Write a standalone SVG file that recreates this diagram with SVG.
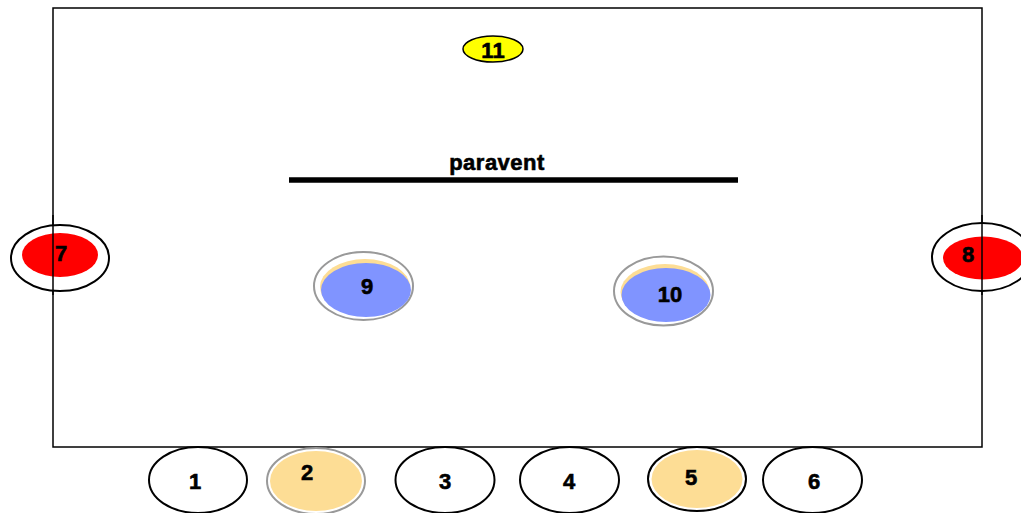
<svg xmlns="http://www.w3.org/2000/svg" width="1021" height="513" viewBox="0 0 1021 513">
<style>
text{font-family:"Liberation Sans",Arial,sans-serif;font-weight:bold;fill:#000;text-anchor:middle;dominant-baseline:central;stroke:#000;stroke-width:0.6}
.n{font-size:22px}
.ring{fill:#fff;stroke:#000;stroke-width:2}
.gring{fill:#fff;stroke:#999;stroke-width:2}
.red{fill:#ff0000}
.org{fill:#fddd95}
.blue{fill:#8094ff}
</style>
<rect x="53" y="8" width="929" height="439" fill="#fff" stroke="#000" stroke-width="1.5"/>
<g id="connectors"></g>
<g id="paravent">
<line x1="289" y1="180" x2="738" y2="180" stroke="#000" stroke-width="5.5"/>
<text x="497" y="162" style="font-size:22px;letter-spacing:0.5px">paravent</text>
</g>
<g id="node11">
<ellipse cx="493" cy="49" rx="30" ry="13" fill="#ffff00" stroke="#000" stroke-width="1.5"/>
<text x="493" y="50" class="n">11</text>
</g>
<g id="node7">
<ellipse cx="60" cy="258" rx="49" ry="33" class="ring"/>
<ellipse cx="60" cy="255" rx="38" ry="22" class="red"/>
<line x1="53" y1="215" x2="53" y2="295" stroke="#000" stroke-width="1.5"/>
<text x="61" y="253" class="n">7</text>
</g>
<g id="node8">
<ellipse cx="982" cy="257" rx="50" ry="34" class="ring"/>
<ellipse cx="983" cy="258" rx="40" ry="21.5" class="red"/>
<line x1="982" y1="215" x2="982" y2="295" stroke="#000" stroke-width="1.5"/>
<text x="968" y="254" class="n">8</text>
</g>
<g id="node9">
<ellipse cx="363.5" cy="286" rx="49.5" ry="34" class="gring"/>
<ellipse cx="365" cy="287" rx="45" ry="28" class="org"/>
<ellipse cx="366" cy="290" rx="45" ry="27" class="blue"/>
<text x="367" y="286" class="n">9</text>
</g>
<g id="node10">
<ellipse cx="663.5" cy="291" rx="49.5" ry="34.5" class="gring"/>
<ellipse cx="665" cy="292" rx="44.5" ry="28" class="org"/>
<ellipse cx="666" cy="295" rx="44.5" ry="27" class="blue"/>
<text x="670" y="294" class="n">10</text>
</g>
<g id="node1">
<ellipse cx="198" cy="480" rx="49" ry="33" class="ring"/>
<text x="195" y="481" class="n">1</text>
</g>
<g id="node2">
<ellipse cx="316" cy="481" rx="49" ry="33" class="gring"/>
<ellipse cx="316" cy="481" rx="46" ry="30" class="org"/>
<text x="307" y="472" class="n">2</text>
</g>
<g id="node3">
<ellipse cx="445" cy="480" rx="49.5" ry="33" class="ring"/>
<text x="445" y="481" class="n">3</text>
</g>
<g id="node4">
<ellipse cx="569.5" cy="480" rx="49.5" ry="33" class="ring"/>
<text x="569" y="481" class="n">4</text>
</g>
<g id="node5">
<ellipse cx="697" cy="479" rx="49" ry="32" class="ring"/>
<ellipse cx="697" cy="479" rx="45.5" ry="29" class="org"/>
<text x="691" y="477" class="n">5</text>
</g>
<g id="node6">
<ellipse cx="812.5" cy="480" rx="49.5" ry="33" class="ring"/>
<text x="814" y="481" class="n">6</text>
</g>
</svg>
